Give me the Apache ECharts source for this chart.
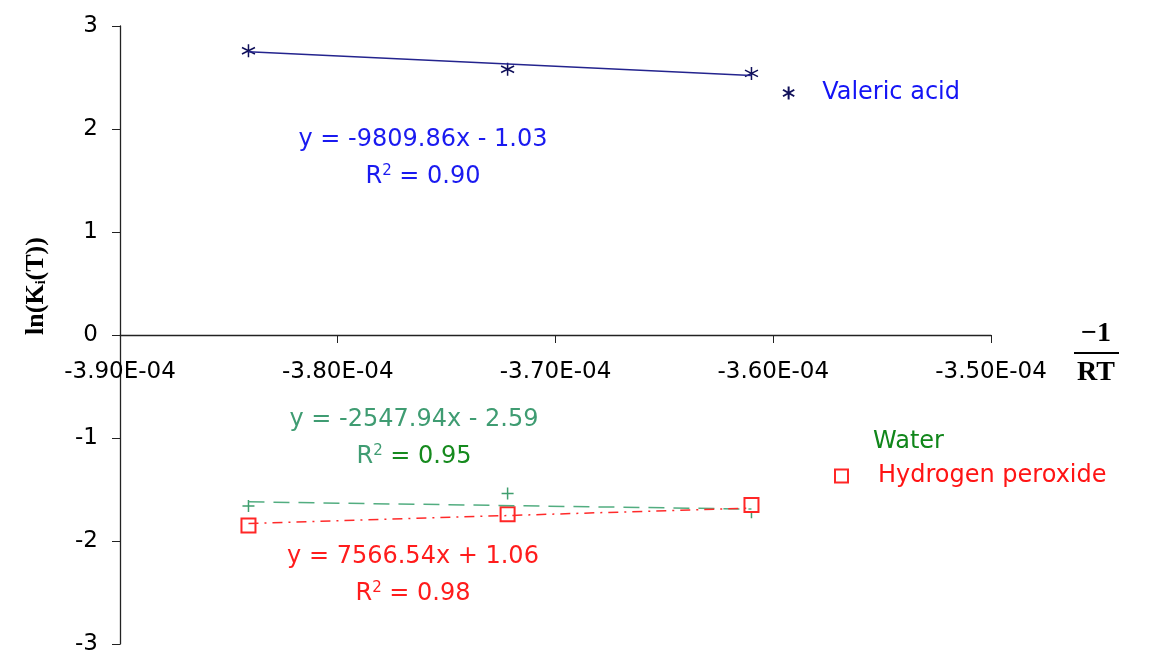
<!DOCTYPE html>
<html>
<head>
<meta charset="utf-8">
<script src="https://cdn.jsdelivr.net/npm/echarts@6/dist/echarts.min.js"></script>
<style>
  html, body { margin: 0; padding: 0; background: #fff; }
  #chart { width: 1154px; height: 651px; }
</style>
</head>
<body>
<div id="chart"></div>
<script>
// -1/RT values for the three temperatures
const xVals = [-3.841e-4, -3.722e-4, -3.610e-4];
const valericY = [2.76, 2.58, 2.54];
const waterY = [-1.66, -1.54, -1.72];
const peroxideY = [-1.85, -1.74, -1.65];
// trend line ends (first and last x)
const fitX = [-3.841e-4, -3.610e-4];
const valericFit = [2.75, 2.52];
const waterFit = [-1.62, -1.69];
const peroxideFit = [-1.83, -1.68];

const eqValeric = ['y = -9809.86x - 1.03', '0.90'];
const eqWater = ['y = -2547.94x - 2.59', '0.95'];
const eqPeroxide = ['y = 7566.54x + 1.06', '0.98'];

const pts = (xs, ys) => xs.map((x, i) => [x, ys[i]]);

const FONT = 'DejaVu Sans';
const SERIF = 'Liberation Serif';
const asterisk = 'path://M0,-6L0,6M-5.2,-3L5.2,3M-5.2,3L5.2,-3';
const plus = 'path://M0,-6L0,6M-6,0L6,0';

var myChart = echarts.init(document.getElementById('chart'));

function eqText(x, y, lines, color, r2color) {
  return [
    {
      type: 'text', x: x, y: y, silent: true,
      style: { text: lines[0], fill: color, font: '24px "' + FONT + '"', align: 'center', verticalAlign: 'middle' }
    },
    {
      type: 'text', x: x, y: y + 37, silent: true,
      style: {
        text: '{a|R}{s|2}{b| = ' + lines[1] + '}',
        align: 'center', verticalAlign: 'middle',
        rich: {
          a: { fontSize: 24, fontFamily: FONT, fill: color },
          s: { fontSize: 15, fontFamily: FONT, fill: color, padding: [0, 0, 12, 0] },
          b: { fontSize: 24, fontFamily: FONT, fill: r2color }
        }
      }
    }
  ];
}

var option = {
  animation: false,
  grid: { left: 120, right: 163, top: 26, bottom: 7, outerBoundsMode: 'none', containLabel: false },
  xAxis: {
    type: 'value',
    min: -3.9e-4,
    max: -3.5e-4,
    interval: 1e-5,
    position: 'bottom',
    offset: -309,   // puts the axis on y = 0
    splitLine: { show: false },
    axisLine: { onZero: false, lineStyle: { color: '#222', width: 1.3 } },
    axisTick: { show: true, length: 8, lineStyle: { color: '#222' } },
    axisLabel: {
      margin: 26,
      fontSize: 23,
      fontFamily: FONT,
      color: '#000',
      formatter: function (v) { return (v * 1e4).toFixed(2) + 'E-04'; }
    }
  },
  yAxis: {
    type: 'value',
    min: -3,
    max: 3,
    interval: 1,
    splitLine: { show: false },
    axisLine: { show: true, onZero: false, lineStyle: { color: '#222', width: 1.3 } },
    axisTick: { show: true, length: 8, lineStyle: { color: '#222' } },
    axisLabel: { margin: 22, fontSize: 23, fontFamily: FONT, color: '#000' }
  },
  legend: [
    {
      left: 782, top: 81, padding: 0, itemWidth: 13, itemHeight: 13, selectedMode: false,
      textStyle: { fontSize: 24, fontFamily: FONT, padding: [0, 0, 0, 22] },
      data: [{ name: 'Valeric acid', textStyle: { color: '#1414f5' } }]
    },
    {
      left: 831, top: 430, padding: 0, itemWidth: 14, itemHeight: 14, selectedMode: false,
      textStyle: { fontSize: 24, fontFamily: FONT, padding: [0, 0, 0, 22] },
      data: [{ name: 'Water', itemStyle: { opacity: 0 }, textStyle: { color: '#10861a' } }]
    },
    {
      left: 834, top: 464, padding: 0, itemWidth: 13, itemHeight: 13, selectedMode: false,
      textStyle: { fontSize: 24, fontFamily: FONT, padding: [0, 0, 0, 25] },
      data: [{ name: 'Hydrogen peroxide', textStyle: { color: '#ff1414' } }]
    }
  ],
  series: [
    {
      name: 'Valeric acid fit', type: 'line', data: pts(fitX, valericFit),
      showSymbol: false, silent: true,
      lineStyle: { color: '#24248e', width: 1.6 }
    },
    {
      name: 'Valeric acid', type: 'scatter', data: pts(xVals, valericY),
      symbol: asterisk, symbolSize: 13,
      itemStyle: { color: 'rgba(0,0,0,0)', borderColor: '#10105a', borderWidth: 1.5, opacity: 1 }
    },
    {
      name: 'Water fit', type: 'line', data: pts(fitX, waterFit),
      showSymbol: false, silent: true,
      lineStyle: { color: '#52ad80', width: 1.5, type: [16, 9] }
    },
    {
      name: 'Water', type: 'scatter', data: pts(xVals, waterY),
      symbol: plus, symbolSize: 12,
      itemStyle: { color: 'rgba(0,0,0,0)', borderColor: '#3f9e6e', borderWidth: 1.5, opacity: 1 }
    },
    {
      name: 'Hydrogen peroxide fit', type: 'line', data: pts(fitX, peroxideFit),
      showSymbol: false, silent: true,
      lineStyle: { color: '#ff2a2a', width: 1.5, type: [10, 6, 2, 6] }
    },
    {
      name: 'Hydrogen peroxide', type: 'scatter', data: pts(xVals, peroxideY),
      symbol: 'emptyRect', symbolSize: 14,
      itemStyle: { color: '#ff2626', borderWidth: 1.5, opacity: 1 }
    }
  ],
  graphic: [
    ...eqText(423, 140, eqValeric, '#1a1af0', '#1a1af0'),
    ...eqText(414, 420, eqWater, '#3f9c72', '#168a1e'),
    ...eqText(413, 557, eqPeroxide, '#ff1c1c', '#ff1c1c'),
    {
      type: 'text', x: 36, y: 286, rotation: Math.PI / 2, silent: true,
      style: {
        text: '{m|ln(K}{s|i}{m|(T))}',
        align: 'center', verticalAlign: 'middle',
        rich: {
          m: { fontSize: 26, fontFamily: SERIF, fontWeight: 'bold', fill: '#000' },
          s: { fontSize: 14, fontFamily: SERIF, fontWeight: 'bold', fill: '#000', padding: [10, 0, 0, 0] }
        }
      }
    },
    {
      type: 'text', x: 1096, y: 334, silent: true,
      style: { text: '\u22121', font: 'bold 28px "' + SERIF + '"', fill: '#000', align: 'center', verticalAlign: 'middle' }
    },
    {
      type: 'line', silent: true,
      shape: { x1: 1074, y1: 353, x2: 1119, y2: 353 },
      style: { stroke: '#000', lineWidth: 2 }
    },
    {
      type: 'text', x: 1096, y: 373, silent: true,
      style: { text: 'RT', font: 'bold 28px "' + SERIF + '"', fill: '#000', align: 'center', verticalAlign: 'middle' }
    }
  ]
};

myChart.setOption(option);
</script>
</body>
</html>
